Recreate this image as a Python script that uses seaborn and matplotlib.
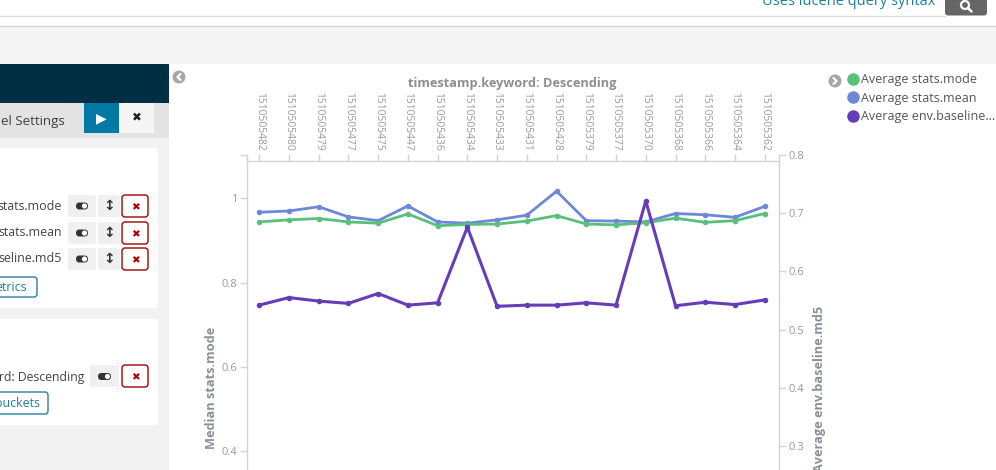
import numpy as np
import pandas as pd
import seaborn as sns
import matplotlib
matplotlib.use("Agg")
import matplotlib.pyplot as plt
from matplotlib.patches import Rectangle, FancyBboxPatch, Circle
from matplotlib.lines import Line2D

# ---------------- data ----------------
timestamps = ["1510505482", "1510505480", "1510505479", "1510505477", "1510505475",
              "1510505447", "1510505436", "1510505434", "1510505433", "1510505431",
              "1510505428", "1510505379", "1510505377", "1510505370", "1510505368",
              "1510505366", "1510505364", "1510505362"]
stats_mode = [0.944, 0.949, 0.952, 0.944, 0.941, 0.963, 0.935, 0.938, 0.939, 0.946,
              0.959, 0.939, 0.937, 0.942, 0.953, 0.943, 0.947, 0.964]
stats_mean = [0.967, 0.970, 0.980, 0.956, 0.947, 0.982, 0.944, 0.941, 0.949, 0.960,
              1.017, 0.947, 0.946, 0.944, 0.964, 0.961, 0.955, 0.981]
baseline_md5 = [0.542, 0.555, 0.549, 0.545, 0.562, 0.542, 0.546, 0.676, 0.540, 0.542,
                0.542, 0.546, 0.542, 0.721, 0.541, 0.547, 0.543, 0.551]
series_names = ["Average stats.mode", "Average stats.mean", "Average env.baseline..."]
series_colors = ["#57c17b", "#6f87d8", "#663db8"]
left_ticks = [0.4, 0.6, 0.8, 1.0]
left_tick_labels = ["0.4", "0.6", "0.8", "1"]
right_ticks = [0.3, 0.4, 0.5, 0.6, 0.7, 0.8]
right_tick_labels = ["0.3", "0.4", "0.5", "0.6", "0.7", "0.8"]

df = pd.DataFrame({
    "pos": np.arange(len(timestamps)),
    "timestamp": timestamps,
    "mode": stats_mode,
    "mean": stats_mean,
    "md5": baseline_md5,
})

# ---------------- figure ----------------
sns.set_theme(style="white")
plt.rcParams["font.family"] = ["Open Sans", "DejaVu Sans"]
W, H = 996, 470
fig = plt.figure(figsize=(W / 100, H / 100), dpi=100)
fig.patch.set_facecolor("white")

# UI overlay in pixel coordinates
ui = fig.add_axes([0, 0, 1, 1], zorder=0)
ui.set_xlim(0, W)
ui.set_ylim(H, 0)
ui.axis("off")

def rect(x0, y0, x1, y1, fc, ec="none", lw=0, z=1):
    ui.add_patch(Rectangle((x0, y0), x1 - x0, y1 - y0, facecolor=fc, edgecolor=ec, lw=lw, zorder=z))

def rbox(x0, y0, x1, y1, fc, ec="none", lw=0, r=3, z=2):
    ui.add_patch(FancyBboxPatch((x0 + r, y0 + r), x1 - x0 - 2 * r, y1 - y0 - 2 * r,
                                boxstyle=f"round,pad={r}", facecolor=fc, edgecolor=ec, lw=lw, zorder=z))

# top bar
ui.plot([0, 945], [15.5, 15.5], color="#dcdcdc", lw=1, zorder=2)
rect(0, 26, W, 64, "#f5f5f5")
ui.plot([0, W], [26, 26], color="#d6d6d6", lw=1, zorder=2)
ui.text(762, 1.5, "Uses lucene query syntax", color="#1f7ea1", fontsize=10.5, va="center", ha="left", zorder=3)
rbox(945, -10, 987, 15.5, "#666666", r=3)
ui.add_patch(Circle((965, 5), 4, facecolor="none", edgecolor="white", lw=1.6, zorder=4))
ui.plot([968, 971.5], [8, 11.5], color="white", lw=1.8, zorder=4)

# left panel
rect(0, 64, 169, 103, "#002e42")
rect(0, 103, 169, 138, "#e3e3e3")
rect(0, 138, 169, H, "#f2f2f2")
ui.text(1, 121, "el Settings", color="#3f3f3f", fontsize=9.5, va="center", ha="left", zorder=3)
rect(84, 103, 119, 133, "#0079a5", z=2)
ui.text(101.5, 118, "▶", color="white", fontsize=10, ha="center", va="center", zorder=3,
        family=["DejaVu Sans"])
rect(119, 103, 154, 133, "#f5f5f5", z=2)
ui.text(136.5, 118, "✖", color="#222222", fontsize=8.5, ha="center", va="center", zorder=3,
        family=["DejaVu Sans"])

rbox(-10, 148, 158, 308, "white", r=4)
rbox(-10, 319, 158, 425, "white", r=4)

def toggle(cx, cy):
    rbox(cx - 14, cy - 11, cx + 14, cy + 11, "#f0f0f0", r=2, z=3)
    rbox(cx - 6, cy - 3.5, cx + 6, cy + 3.5, "#333333", r=3.5, z=4)
    ui.add_patch(Circle((cx + 2.5, cy), 2.6, facecolor="white", edgecolor="none", zorder=5))

def updown(cx, cy):
    rbox(cx - 11, cy - 11, cx + 11, cy + 11, "#f0f0f0", r=2, z=3)
    ui.text(cx, cy, "↕", color="#333333", fontsize=10, ha="center", va="center", zorder=5,
            family=["DejaVu Sans"], fontweight="bold")

def redx(cx, cy):
    rbox(cx - 13, cy - 11, cx + 13, cy + 11, "white", ec="#a30000", lw=1, r=3, z=3)
    ui.text(cx, cy + 1, "✖", color="#b20000", fontsize=7.5, ha="center", va="center", zorder=5,
            family=["DejaVu Sans"])

for label, cy in [("stats.mode", 206), ("stats.mean", 233), ("seline.md5", 259)]:
    ui.text(62, cy, label, color="#444444", fontsize=8.9, ha="right", va="center", zorder=4)
    toggle(82, cy)
    updown(109, cy)
    redx(135, cy)
rbox(-10, 277, 37, 297, "white", ec="#2a7ea1", lw=1, r=3, z=3)
ui.text(27, 287.5, "etrics", color="#1f7ea1", fontsize=8.9, ha="right", va="center", zorder=4)

ui.text(84, 377, "rd: Descending", color="#444444", fontsize=8.8, ha="right", va="center", zorder=4)
rbox(90, 365, 119, 387, "#f0f0f0", r=2, z=3)
rbox(98, 373, 111, 380, "#333333", r=3.5, z=4)
ui.add_patch(Circle((107.5, 376.5), 2.6, facecolor="white", edgecolor="none", zorder=5))
redx(135, 376)
rbox(-10, 392, 48, 414, "white", ec="#2a7ea1", lw=1, r=3, z=3)
ui.text(40, 403.5, "buckets", color="#1f7ea1", fontsize=8.9, ha="right", va="center", zorder=4)

# collapse icons
for cx, cy, d in [(179, 77, -1), (835, 81, 1)]:
    ui.add_patch(Circle((cx, cy), 6.5, facecolor="#a7a7a7", edgecolor="none", zorder=3))
    ui.plot([cx - 1.5 * d, cx + 1.5 * d, cx - 1.5 * d], [cy - 3, cy, cy + 3], color="white",
            lw=1.6, zorder=4, solid_capstyle="round")

# ---------------- chart ----------------
ax_l, ax_r = 246.7, 779.0
ax_t, ax_b = 155.0, 493.0
ax = fig.add_axes([ax_l / W, 1 - ax_b / H, (ax_r - ax_l) / W, (ax_b - ax_t) / H], zorder=2)
ax.patch.set_alpha(0)
ax2 = ax.twinx()
ax2.patch.set_alpha(0)

sns.lineplot(data=df, x="pos", y="mean", ax=ax, color=series_colors[1], marker="o",
             markersize=4, markeredgewidth=0, linewidth=2, sort=False)
sns.lineplot(data=df, x="pos", y="mode", ax=ax, color=series_colors[0], marker="o",
             markersize=4, markeredgewidth=0, linewidth=2, sort=False)
sns.lineplot(data=df, x="pos", y="md5", ax=ax2, color=series_colors[2], marker="o",
             markersize=4, markeredgewidth=0, linewidth=2.2, sort=False)

ax.set_xlim(-0.42, 17.48)
ax.set_ylim(0.3, 1.103)
ax2.set_ylim(0.2192, 0.8)

axis_c = "#d4d4d4"
tick_c = "#9a9a9a"
for a in (ax, ax2):
    for s in a.spines.values():
        s.set_color(axis_c)
        s.set_linewidth(1)
    a.spines["bottom"].set_visible(False)
    a.set_xlabel("")
    a.set_ylabel("")
ax2.spines["top"].set_visible(False)
ax2.spines["left"].set_visible(False)
ax.spines["right"].set_visible(False)
ax.spines["top"].set_position(("outward", -4.1))

ax.xaxis.set_ticks_position("top")
ax.xaxis.set_label_position("top")
ax.set_xticks(df["pos"])
ax.set_xticklabels(timestamps, rotation=270, fontsize=7.4, color=tick_c)
ax.tick_params(axis="x", which="major", length=5, width=1, color=axis_c, pad=2,
               top=True, bottom=False, labeltop=True, labelbottom=False)

ax.set_yticks(left_ticks + [1.103])
ax.set_yticklabels(left_tick_labels + [""], fontsize=8, color=tick_c)
ax.tick_params(axis="y", length=5, width=1, color=axis_c, pad=2, left=True)

ax2.set_yticks(right_ticks)
ax2.set_yticklabels(right_tick_labels, fontsize=8, color=tick_c)
ax2.tick_params(axis="y", length=5, width=1, color=axis_c, pad=2, right=True)

title_c = "#8a9097"
fig.text(512 / W, 1 - 84 / H, "timestamp.keyword: Descending", fontsize=9.2, fontweight="bold",
         color=title_c, ha="center", va="center")
fig.text(211 / W, 1 - 388 / H, "Median stats.mode", fontsize=9.2, fontweight="bold",
         color=title_c, ha="center", va="center", rotation=90)
fig.text(819 / W, 1 - 389 / H, "Average env.baseline.md5", fontsize=9.2, fontweight="bold",
         color=title_c, ha="center", va="center", rotation=90)

handles = [Line2D([], [], marker="o", linestyle="", markersize=9, markeredgewidth=0, color=c)
           for c in series_colors]
fig.legend(handles, series_names, loc="upper left", bbox_to_anchor=(848 / W, 1 - 73 / H),
           frameon=False, fontsize=9, labelcolor="#555555", handlelength=0.8,
           handletextpad=0.25, labelspacing=0.45, borderpad=0, borderaxespad=0)

fig.savefig("out.png", dpi=100)
